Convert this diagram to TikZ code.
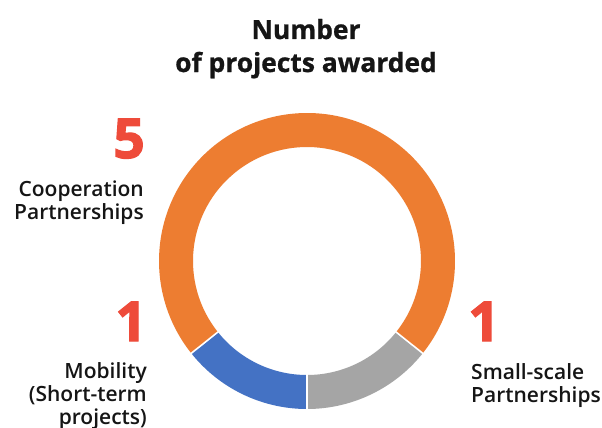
\documentclass[tikz,border=0pt]{standalone}
\usepackage{fontspec}
\setmainfont{Open Sans}
\newfontfamily\labfont{Open Sans Semibold}
\newfontfamily\numfont{Open Sans}[BoldFeatures={FakeBold=2.2}]
\newfontfamily\titfont{Open Sans}[BoldFeatures={FakeBold=0.8}]
\definecolor{ringorange}{HTML}{ED7D31}
\definecolor{ringblue}{HTML}{4472C4}
\definecolor{ringgray}{HTML}{A5A5A5}
\definecolor{numred}{HTML}{EE4B3A}
\definecolor{txtblack}{HTML}{151515}
\begin{document}
\begin{tikzpicture}[x=1pt,y=1pt,
  lab/.style={inner sep=0pt, text=txtblack, font=\labfont\fontsize{21}{23}\selectfont},
  num/.style={inner sep=0pt, text=numred, font=\numfont\bfseries\fontsize{55}{55}\selectfont},
  tit/.style={inner sep=0pt, text=txtblack, align=center, font=\titfont\bfseries\fontsize{26.4}{33}\selectfont},
  sep/.style={white, line width=1.6pt}]
\useasboundingbox[fill=white] (0,0) rectangle (602,-428);
% ring
\begin{scope}[shift={(307,-261)}]
  \def\ro{148}\def\ri{114}
  \fill[ringorange] (-38.57:\ro) arc[start angle=-38.57, end angle=218.57, radius=\ro]
     -- (218.57:\ri) arc[start angle=218.57, end angle=-38.57, radius=\ri] -- cycle;
  \fill[ringblue] (218.57:\ro) arc[start angle=218.57, end angle=270, radius=\ro]
     -- (270:\ri) arc[start angle=270, end angle=218.57, radius=\ri] -- cycle;
  \fill[ringgray] (270:\ro) arc[start angle=270, end angle=321.43, radius=\ro]
     -- (321.43:\ri) arc[start angle=321.43, end angle=270, radius=\ri] -- cycle;
  \draw[sep] (270:112) -- (270:150);
  \draw[sep] (218.57:112) -- (218.57:150);
  \draw[sep] (-38.57:112) -- (-38.57:150);
\end{scope}
% title
\node[tit, anchor=base] (title) at (306,-72) {Number\\of projects awarded};
% numbers
\node[num, anchor=base east] (n5) at (145,-158) {5};
\node[num, anchor=base east] (n1l) at (147,-341) {1};
\node[num, anchor=base west] (n1r) at (468,-341) {1};
% labels
\node[lab, anchor=base east, align=right] (coop) at (144,-219) {Cooperation\\Partnerships};
\node[lab, anchor=base east, align=right] (mob) at (147,-424) {Mobility\\(Short-term\\projects)};
\node[lab, anchor=base west, align=left] (small) at (471,-402) {Small-scale\\Partnerships};
\end{tikzpicture}
\end{document}
